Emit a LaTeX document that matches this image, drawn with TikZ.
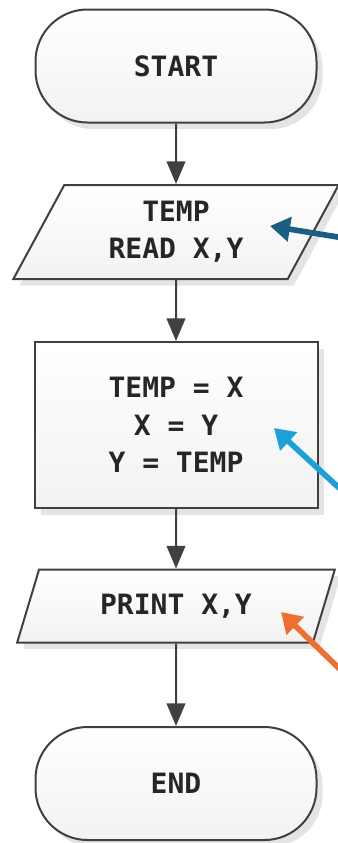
\documentclass[tikz,border=0pt]{standalone}
\usepackage{fontspec}
\usepackage{tikz}
\usetikzlibrary{shapes.geometric}
\usetikzlibrary{shadows}
\usetikzlibrary{arrows.meta}
\newfontfamily\flowfont{DejaVu Sans Mono}
\definecolor{lineGray}{RGB}{64,64,64}
\definecolor{noteDark}{RGB}{26,95,130}
\definecolor{noteLight}{RGB}{27,160,216}
\definecolor{noteOrange}{RGB}{237,112,49}
\definecolor{shadowGray}{RGB}{228,228,228}
\tikzset{
  box/.style={draw=lineGray, line width=1.5pt, top color=white, bottom color=black!5,
    drop shadow={shadow xshift=4.5pt, shadow yshift=-5pt, fill=shadowGray, opacity=1},
    font=\flowfont\bfseries\fontsize{21}{28}\selectfont, text=black!85, align=center, inner sep=0pt},
  terminal/.style={box, rectangle, rounded corners=39pt, minimum width=210.75pt, minimum height=84.75pt},
  process/.style={box, rectangle, minimum width=212.25pt, minimum height=124.5pt},
  io/.style={box, trapezium, trapezium left angle=63.5, trapezium right angle=116.5, trapezium stretches=true},
  flow/.style={draw=lineGray, line width=1.5pt, -{Triangle[length=17pt,width=14pt]}},
  note/.style={line width=4.25pt, -{Triangle[length=15pt,width=18pt]}},
}

\begin{document}
\begin{tikzpicture}[x=0.75pt,y=0.75pt,yscale=-1,xscale=1]
\useasboundingbox (0,0) rectangle (338,843);
\clip (0,0) rectangle (338,843);

%Shape: Terminal [start]
\node [terminal] (start) at (176,66) {START};
%Shape: Input [read]
\node [io, minimum width=244.5pt, minimum height=70.5pt] (read) at (176,232) {TEMP\\READ X,Y};
%Shape: Rectangle [swap]
\node [process] (swap) at (176,425) {TEMP = X\\X = Y\\Y = TEMP};
%Shape: Output [print]
\node [io, minimum width=238.5pt, minimum height=54.75pt] (print) at (176,606) {PRINT X,Y};
%Shape: Terminal [end]
\node [terminal] (end) at (176,783.5) {END};

%Straight Lines
\draw [flow] (start.south) -- (read.north);
\draw [flow] (read.south) -- (swap.north);
\draw [flow] (swap.south) -- (print.north);
\draw [flow] (print.south) -- (end.north);

%Pointer arrows
\coordinate (readNote) at (350,239);
\coordinate (swapNote) at (350,498);
\coordinate (printNote) at (350,679);
\draw [note, noteDark] (readNote) -- ([shift={(94,-6)}]read.center);
\draw [note, noteLight] (swapNote) -- ([shift={(98,3)}]swap.center);
\draw [note, noteOrange] (printNote) -- ([shift={(105,6)}]print.center);

\end{tikzpicture}
\end{document}
